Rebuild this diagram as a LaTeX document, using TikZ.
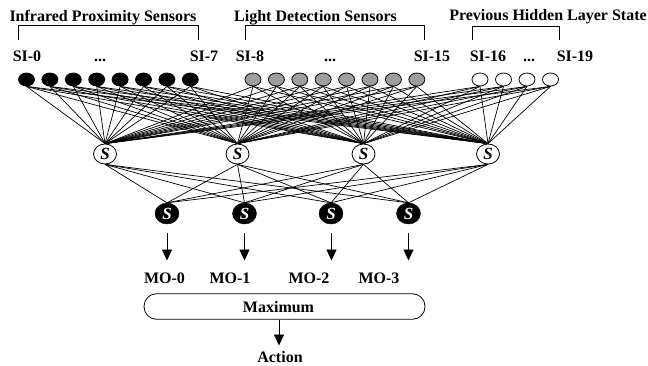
\documentclass[tikz,border=0pt]{standalone}
\usepackage{fontspec}
\setmainfont{Liberation Serif}
\usetikzlibrary{arrows.meta,shapes.geometric,backgrounds}
\begin{document}
\begin{tikzpicture}[x=1pt,y=-1pt,
  lbl/.style={font=\fontsize{16}{18}\selectfont\bfseries, inner sep=0pt, anchor=base},
  inp/.style={ellipse, draw=black, line width=0.8pt, minimum width=16pt, minimum height=13pt, inner sep=0pt},
  blk/.style={inp, fill=black},
  gry/.style={inp, fill=black!38},
  wht/.style={inp, fill=white},
  hid/.style={ellipse, draw=black, line width=0.8pt, fill=white, minimum width=23pt, minimum height=20pt, inner sep=0pt, font=\fontsize{17}{17}\selectfont\bfseries\itshape},
  outn/.style={ellipse, draw=black, fill=black, text=white, minimum width=24pt, minimum height=21pt, inner sep=0pt, font=\fontsize{17}{17}\selectfont\bfseries\itshape},
  conn/.style={line width=0.7pt},
  arr/.style={line width=0.8pt, -{Triangle[length=11pt,width=10pt]}},
  brk/.style={line width=0.8pt}
]
\useasboundingbox (0,0) rectangle (648,365);

% group titles
\node[lbl] (t1) at (103,21) {Infrared Proximity Sensors};
\node[lbl] (t2) at (315.5,21) {Light Detection Sensors};
\node[lbl] (t3) at (548,20) {Previous Hidden Layer State};
% brackets
\draw[brk] (18,40) -- (18,25.5) -- (198,25.5) -- (198,40);
\draw[brk] (245,40) -- (245,25.5) -- (424,25.5) -- (424,40);
\draw[brk] (472,40) -- (472,26.5) -- (559,26.5) -- (559,40);

% SI labels
\node[lbl] (si0) at (27,61) {SI-0};
\node[lbl] (d1) at (100,61) {...};
\node[lbl] (si7) at (204,61) {SI-7};
\node[lbl] (si8) at (250,61) {SI-8};
\node[lbl] (d2) at (330,61) {...};
\node[lbl] (si15) at (432,61) {SI-15};
\node[lbl] (si16) at (488,61) {SI-16};
\node[lbl] (d3) at (529,61) {...};
\node[lbl] (si19) at (575,61) {SI-19};

% input nodes
\foreach \i in {0,...,7} {
  \node[blk] (in\i) at ({26.5+23.4*\i},79.5) {};
}
\foreach \i in {8,...,15} {
  \node[gry] (in\i) at ({253+23.4*(\i-8)},79.5) {};
}
\foreach \i in {16,...,19} {
  \node[wht] (in\i) at ({480+23.5*(\i-16)},79.5) {};
}

% hidden nodes
\node[hid] (h0) at (105,154) {S};
\node[hid] (h1) at (237.5,154) {S};
\node[hid] (h2) at (363.5,154) {S};
\node[hid] (h3) at (488,154) {S};

% output nodes
\node[outn] (o0) at (167,213.5) {S};
\node[outn] (o1) at (244.5,213.5) {S};
\node[outn] (o2) at (331,213.5) {S};
\node[outn] (o3) at (408.5,213.5) {S};

% connections
\begin{scope}[on background layer]
\foreach \i in {0,...,19} {
  \foreach \h in {0,...,3} {
    \draw[conn] (in\i.south) -- (h\h.north);
  }
}
\foreach \h in {0,...,3} {
  \foreach \o in {0,...,3} {
    \draw[conn] (h\h.south) -- (o\o.north);
  }
}
\end{scope}

% output arrows
\coordinate (a0s) at (167,233); \coordinate (a0e) at (167,260.5);
\coordinate (a1s) at (244.5,233); \coordinate (a1e) at (244.5,260.5);
\coordinate (a2s) at (331.5,233); \coordinate (a2e) at (331.5,260.5);
\coordinate (a3s) at (408.5,233); \coordinate (a3e) at (408.5,260.5);
\foreach \k in {0,...,3} { \draw[arr] (a\k s) -- (a\k e); }

% MO labels
\node[lbl] (mo0) at (164.5,283) {MO-0};
\node[lbl] (mo1) at (230,283) {MO-1};
\node[lbl] (mo2) at (309,283) {MO-2};
\node[lbl] (mo3) at (379,283) {MO-3};

% Maximum box
\node[draw=black, line width=0.8pt, rounded corners=12.5pt, minimum width=281pt, minimum height=25.5pt, inner sep=0pt] (maxbox) at (284.5,306.5) {};
\node[lbl] (maxt) at (278.5,312.5) {Maximum};
\node[lbl] (act) at (280,362) {Action};
\coordinate (acte) at (279,345.5);
\draw[arr] (maxbox.south -| acte) -- (acte);
\end{tikzpicture}
\end{document}
